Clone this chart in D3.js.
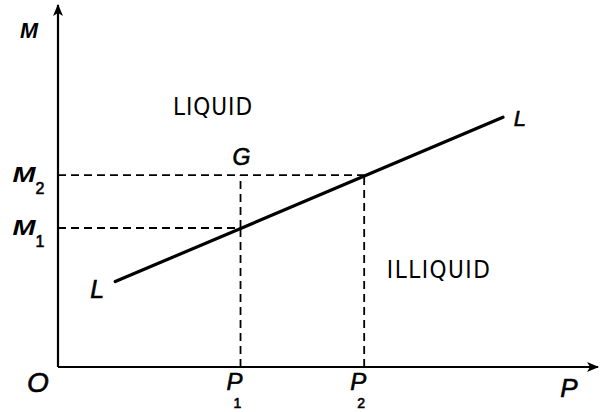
<!DOCTYPE html>
<html><head><meta charset="utf-8">
<script src="https://cdn.jsdelivr.net/npm/d3@7"></script>
<style>body{margin:0;background:#fff}svg{display:block}</style>
</head><body>
<svg id="c" width="603" height="412"></svg>
<script>
// Data (arbitrary units, P horizontal, M vertical)
const lineP = [10.6, 82.4];      // L-L line endpoints (P)
const lineM = [23.6, 69.0];      // L-L line endpoints (M)
const pTicks = [33.8, 56.7];     // P1, P2
const mTicks = [38.4, 53.0];     // M1, M2
const pLabels = ["P", "P"], pSubs = ["1", "2"];
const mLabels = ["M", "M"], mSubs = ["1", "2"];
const regions = [{text:"LIQUID", p:21.3, m:69.6, w:79}, {text:"ILLIQUID", p:60.9, m:24.6, w:103}];

const svg = d3.select("#c");
const x = d3.scaleLinear().domain([0, 100]).range([58, 598]);
const y = d3.scaleLinear().domain([0, 100]).range([367, 5]);
const ink = "#000";
const mathFont = "'Liberation Sans', Arial, sans-serif";

// arrow marker
const defs = svg.append("defs");
defs.append("marker").attr("id","arr").attr("viewBox","0 0 12 10").attr("refX",11).attr("refY",5)
  .attr("markerWidth",12).attr("markerHeight",10).attr("markerUnits","userSpaceOnUse").attr("orient","auto")
  .append("path").attr("d","M0,0 L12,5 L0,10 L3,5 Z").attr("fill",ink);

// axes
svg.append("line").attr("x1",x(0)).attr("y1",y(0)).attr("x2",x(100)).attr("y2",y(0))
  .attr("stroke",ink).attr("stroke-width",2.2).attr("marker-end","url(#arr)");
svg.append("line").attr("x1",x(0)).attr("y1",y(0)).attr("x2",x(0)).attr("y2",y(100))
  .attr("stroke",ink).attr("stroke-width",2.2).attr("marker-end","url(#arr)");

const dash = sel => sel.attr("stroke",ink).attr("stroke-width",1.8).attr("stroke-dasharray","8,5");
// vertical guides from P axis to the L line
pTicks.forEach((p,i)=>{
  svg.append("line").attr("x1",x(p)).attr("x2",x(p)).attr("y1",y(0)).attr("y2",y(mTicks[i])).call(dash);
});
// horizontal guides from M axis
mTicks.forEach((m,i)=>{
  svg.append("line").attr("x1",x(0)).attr("x2",x(pTicks[i])).attr("y1",y(m)).attr("y2",y(m)).call(dash);
});
// vertical above P1 up to M2 (point G)
svg.append("line").attr("x1",x(pTicks[0])).attr("x2",x(pTicks[0])).attr("y1",y(mTicks[0])).attr("y2",y(mTicks[1])).call(dash);

// L line
svg.append("line").attr("x1",x(lineP[0])).attr("y1",y(lineM[0])).attr("x2",x(lineP[1])).attr("y2",y(lineM[1]))
  .attr("stroke",ink).attr("stroke-width",3.2).attr("stroke-linecap","round");

function txt(px, py, s, size, opts){
  opts = opts||{};
  const t = svg.append("text").attr("x",px).attr("y",py).attr("text-anchor","middle")
    .attr("font-family",mathFont).attr("font-style",opts.normal?"normal":"italic")
    .attr("font-weight",opts.bold?"bold":"normal").attr("font-size",size).attr("fill",ink)
    .attr("stroke",ink).attr("stroke-width",opts.bold?0:0.6).text(s);
  if(opts.w) t.attr("textLength",opts.w).attr("lengthAdjust","spacingAndGlyphs");
  return t;
}
// axis labels
txt(29, 38, "M", 22, {bold:true, w:18});
txt(569, 397, "P", 26);
txt(38, 392, "O", 28);
pTicks.forEach((p,i)=>{
  txt(x(p)-6, 390, pLabels[i], 24);
  txt(x(p)-3, 408, pSubs[i], 14, {normal:true});
});
mTicks.forEach((m,i)=>{
  txt(24, y(m)+7, mLabels[i], 22, {bold:true, w:23});
  txt(40, y(m)+19, mSubs[i], 16, {normal:true});
});
// G and L labels
txt(x(pTicks[0])+1, y(mTicks[1])-10, "G", 23);
txt(x(lineP[0])-18, y(lineM[0])+16, "L", 25);
txt(x(lineP[1])+17, y(lineM[1])+9, "L", 22);

// region labels
regions.forEach(r=>{
  svg.append("text").attr("x",x(r.p)).attr("y",y(r.m))
    .attr("font-family","'DejaVu Sans Condensed','DejaVu Sans',sans-serif")
    .attr("font-size",24).attr("fill",ink)
    .attr("textLength",r.w).attr("lengthAdjust","spacing").text(r.text);
});
</script>
</body></html>
